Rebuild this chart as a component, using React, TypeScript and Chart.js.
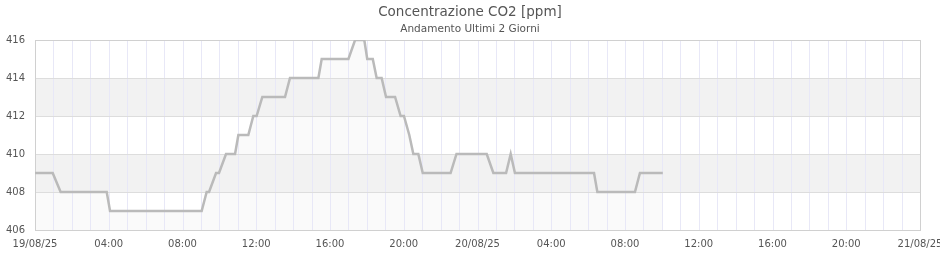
import React, { useEffect, useRef } from 'react';
import { Chart, registerables } from 'chart.js';

Chart.register(...registerables);

// Hours since 19/08/25 00:00
const hours = [
  0, 0.96, 1.39, 3.89, 4.07, 9.04, 9.31, 9.44, 9.82, 9.98, 10.36, 10.85, 11.03, 11.57,
  11.84, 12.02, 12.33, 13.56, 13.83, 15.37, 15.55, 17.0, 17.36, 17.86, 18.02, 18.32,
  18.53, 18.8, 19.04, 19.53, 19.83, 20.01, 20.3, 20.52, 20.79, 21.03, 22.54, 22.86,
  24.5, 24.86, 25.55, 25.8, 26.03, 30.32, 30.5, 32.54, 32.81, 34.05,
];
const co2 = [
  409, 409, 408, 408, 407, 407, 408, 408, 409, 409, 410, 410, 411, 411,
  412, 412, 413, 413, 414, 414, 415, 415, 416, 416, 415, 415,
  414, 414, 413, 413, 412, 412, 411, 410, 410, 409, 409, 410,
  410, 409, 409, 410, 409, 409, 408, 408, 409, 409,
];
const xTickLabels = [
  '19/08/25', '04:00', '08:00', '12:00', '16:00', '20:00',
  '20/08/25', '04:00', '08:00', '12:00', '16:00', '20:00', '21/08/25',
];
const yMin = 406;
const yMax = 416;
const bandRanges = [
  [408, 410],
  [412, 414],
];
const titleText = 'Concentrazione CO2 [ppm]';
const subtitleText = 'Andamento Ultimi 2 Giorni';

const backdrop = {
  id: 'backdrop',
  afterDatasetDraw(chart: any, args: any) {
    if (args.index !== 1) return;
    const { ctx, chartArea: a, scales } = chart;
    const x = scales.x;
    const y = scales.y;
    ctx.save();
    ctx.fillStyle = '#f2f2f2';
    for (const [lo, hi] of bandRanges) {
      const t = y.getPixelForValue(hi);
      const b = y.getPixelForValue(lo);
      ctx.fillRect(a.left, t, a.right - a.left, b - t);
    }
    ctx.lineWidth = 1;
    ctx.strokeStyle = '#e8e8f7';
    for (const tk of x.ticks) {
      const px = Math.round(x.getPixelForValue(tk.value)) + 0.5;
      ctx.beginPath();
      ctx.moveTo(px, a.top);
      ctx.lineTo(px, a.bottom);
      ctx.stroke();
    }
    ctx.strokeStyle = '#dddddd';
    for (const tk of y.ticks) {
      const py = Math.round(y.getPixelForValue(tk.value)) + 0.5;
      ctx.beginPath();
      ctx.moveTo(a.left, py);
      ctx.lineTo(a.right, py);
      ctx.stroke();
    }
    ctx.strokeStyle = '#d0d0d0';
    ctx.strokeRect(Math.round(a.left) + 0.5, Math.round(a.top) + 0.5, Math.round(a.right - a.left), Math.round(a.bottom - a.top));
    ctx.restore();
  },
};

export default function App() {
  const ref = useRef<HTMLCanvasElement | null>(null);
  useEffect(() => {
    if (!ref.current) return;
    const points = hours.map((h, i) => ({ x: h, y: co2[i] }));
    const font = { family: 'DejaVu Sans', size: 10 };
    const chart = new Chart(ref.current, {
      type: 'line',
      data: {
        datasets: [
          {
            data: points,
            borderColor: '#bababa',
            borderWidth: 2.5,
            pointRadius: 0,
            tension: 0,
            fill: false,
            order: 0,
          },
          {
            data: points,
            borderWidth: 0,
            borderColor: 'rgba(0,0,0,0)',
            backgroundColor: '#fafafa',
            pointRadius: 0,
            tension: 0,
            fill: 'start',
            order: 1,
          },
        ],
      },
      options: {
        animation: false,
        responsive: false,
        events: [],
        layout: { padding: 0 },
        plugins: {
          legend: { display: false },
          tooltip: { enabled: false },
          title: {
            display: true,
            text: titleText,
            color: '#555555',
            font: { family: 'DejaVu Sans', size: 13.5, weight: 'normal' },
            padding: { top: 4.7, bottom: 1.8 },
          },
          subtitle: {
            display: true,
            text: subtitleText,
            color: '#555555',
            font: { family: 'DejaVu Sans', size: 10.5, weight: 'normal' },
            padding: { top: 0, bottom: 4.7 },
          },
        },
        scales: {
          x: {
            type: 'linear',
            min: 0,
            max: 48,
            grid: { display: false, drawTicks: false },
            border: { display: false },
            ticks: {
              stepSize: 1,
              autoSkip: false,
              maxRotation: 0,
              padding: 8,
              color: '#555555',
              font,
              callback: (v: any) => {
                const n = Number(v);
                return n % 4 === 0 ? xTickLabels[n / 4] : '';
              },
            },
            afterFit: (s: any) => {
              s.height = 30;
              s.paddingLeft = 0;
              s.paddingRight = 20;
            },
          },
          y: {
            min: yMin,
            max: yMax,
            grid: { display: false, drawTicks: false },
            border: { display: false },
            ticks: { stepSize: 2, padding: 10, color: '#555555', font },
            afterFit: (s: any) => {
              s.width = 35;
              s.paddingTop = 0;
              s.paddingBottom = 0;
            },
          },
        },
      },
      plugins: [backdrop],
    });
    return () => chart.destroy();
  }, []);
  return (
    <div style={{ position: 'absolute', left: 0, top: 0, width: 940, height: 260 }}>
      <canvas ref={ref} width={940} height={260} />
    </div>
  );
}
